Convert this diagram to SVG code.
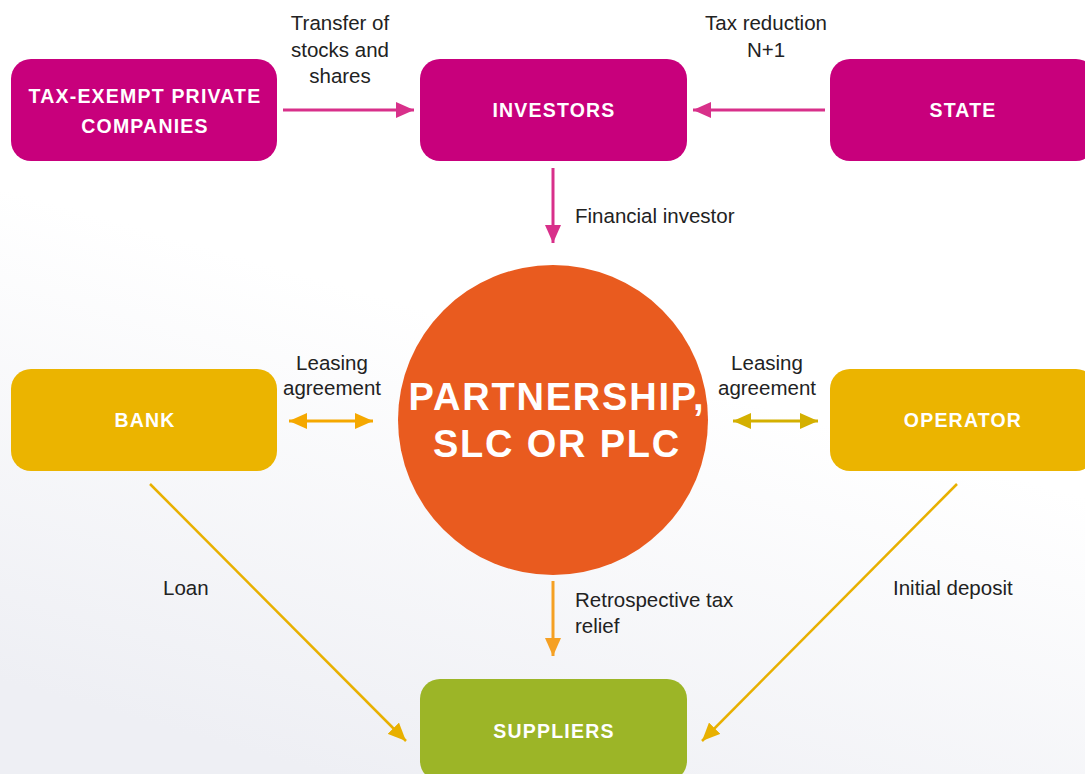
<svg xmlns="http://www.w3.org/2000/svg" width="1085" height="774" viewBox="0 0 1085 774">
  <defs>
    <linearGradient id="bg" x1="0.7" y1="0" x2="0.3" y2="1">
      <stop offset="0" stop-color="#ffffff"/>
      <stop offset="0.45" stop-color="#ffffff"/>
      <stop offset="1" stop-color="#eeeff4"/>
    </linearGradient>
    <marker id="mPink" markerUnits="userSpaceOnUse" markerWidth="20" markerHeight="16" refX="18" refY="8" orient="auto">
      <path d="M0,0 L18,8 L0,16 Z" fill="#d8308a"/>
    </marker>
    <marker id="mOrange" markerUnits="userSpaceOnUse" markerWidth="20" markerHeight="16" refX="18" refY="8" orient="auto-start-reverse">
      <path d="M0,0 L18,8 L0,16 Z" fill="#f5a800"/>
    </marker>
    <marker id="mOlive" markerUnits="userSpaceOnUse" markerWidth="20" markerHeight="16" refX="18" refY="8" orient="auto-start-reverse">
      <path d="M0,0 L18,8 L0,16 Z" fill="#d4b000"/>
    </marker>
    <marker id="mRetro" markerUnits="userSpaceOnUse" markerWidth="20" markerHeight="16" refX="18" refY="8" orient="auto">
      <path d="M0,0 L18,8 L0,16 Z" fill="#f5a023"/>
    </marker>
    <marker id="mGold" markerUnits="userSpaceOnUse" markerWidth="20" markerHeight="16" refX="18" refY="8" orient="auto">
      <path d="M0,0 L18,8 L0,16 Z" fill="#e8b000"/>
    </marker>
  </defs>
  <style>
    .mag { fill: #c8007c; }
    .gold { fill: #ebb400; }
    .green { fill: #9cb527; }
    .box { font-family: "Liberation Sans", Arial, sans-serif; font-weight: bold; font-size: 19.5px; letter-spacing: 1.2px; fill: #ffffff; text-anchor: middle; }
    .lbl { font-family: "Liberation Sans", Arial, sans-serif; font-size: 20.5px; fill: #222222; }
    .mid { text-anchor: middle; }
    .big { font-family: "Liberation Sans", Arial, sans-serif; font-weight: bold; font-size: 38px; letter-spacing: 1.8px; fill: #ffffff; text-anchor: middle; }
  </style>
  <rect x="0" y="0" width="1085" height="774" fill="url(#bg)"/>

  <g id="connectors" fill="none">
    <line x1="283" y1="110" x2="414" y2="110" stroke="#d8308a" stroke-width="3" marker-end="url(#mPink)"/>
    <line x1="825" y1="110" x2="693" y2="110" stroke="#d8308a" stroke-width="3" marker-end="url(#mPink)"/>
    <line x1="553" y1="168" x2="553" y2="243" stroke="#d8308a" stroke-width="3" marker-end="url(#mPink)"/>
    <line x1="289" y1="421" x2="373" y2="421" stroke="#f5a800" stroke-width="3" marker-start="url(#mOrange)" marker-end="url(#mOrange)"/>
    <line x1="733" y1="421" x2="818" y2="421" stroke="#d4b000" stroke-width="3" marker-start="url(#mOlive)" marker-end="url(#mOlive)"/>
    <line x1="553" y1="581" x2="553" y2="656" stroke="#f5a023" stroke-width="3" marker-end="url(#mRetro)"/>
    <line x1="150" y1="484" x2="406" y2="741" stroke="#e8b000" stroke-width="2.5" marker-end="url(#mGold)"/>
    <line x1="957" y1="484" x2="702" y2="741" stroke="#e8b000" stroke-width="2.5" marker-end="url(#mGold)"/>
    <text class="lbl mid" x="340" y="30">Transfer of</text>
    <text class="lbl mid" x="340" y="57">stocks and</text>
    <text class="lbl mid" x="340" y="83">shares</text>
    <text class="lbl mid" x="766" y="30">Tax reduction</text>
    <text class="lbl mid" x="766" y="57">N+1</text>
    <text class="lbl" x="575" y="223">Financial investor</text>
    <text class="lbl mid" x="332" y="370">Leasing</text>
    <text class="lbl mid" x="332" y="395">agreement</text>
    <text class="lbl mid" x="767" y="370">Leasing</text>
    <text class="lbl mid" x="767" y="395">agreement</text>
    <text class="lbl" x="163" y="595">Loan</text>
    <text class="lbl" x="893" y="595">Initial deposit</text>
    <text class="lbl" x="575" y="607">Retrospective tax</text>
    <text class="lbl" x="575" y="633">relief</text>
  </g>

  <g id="tax-exempt">
    <rect class="mag" x="11" y="59" width="266" height="102" rx="20"/>
    <text class="box" x="145" y="103">TAX-EXEMPT PRIVATE</text>
    <text class="box" x="145" y="133">COMPANIES</text>
  </g>
  <g id="investors">
    <rect class="mag" x="420" y="59" width="267" height="102" rx="20"/>
    <text class="box" x="554" y="117">INVESTORS</text>
  </g>
  <g id="state">
    <rect class="mag" x="830" y="59" width="266" height="102" rx="20"/>
    <text class="box" x="963" y="117">STATE</text>
  </g>
  <g id="partnership">
    <circle cx="553" cy="420" r="155" fill="#e95b1f"/>
    <text class="big" x="557" y="410">PARTNERSHIP,</text>
    <text class="big" x="557" y="457">SLC OR PLC</text>
  </g>
  <g id="bank">
    <rect class="gold" x="11" y="369" width="266" height="102" rx="20"/>
    <text class="box" x="145" y="427">BANK</text>
  </g>
  <g id="operator">
    <rect class="gold" x="830" y="369" width="266" height="102" rx="20"/>
    <text class="box" x="963" y="427">OPERATOR</text>
  </g>
  <g id="suppliers">
    <rect class="green" x="420" y="679" width="267" height="102" rx="20"/>
    <text class="box" x="554" y="738">SUPPLIERS</text>
  </g>
</svg>
